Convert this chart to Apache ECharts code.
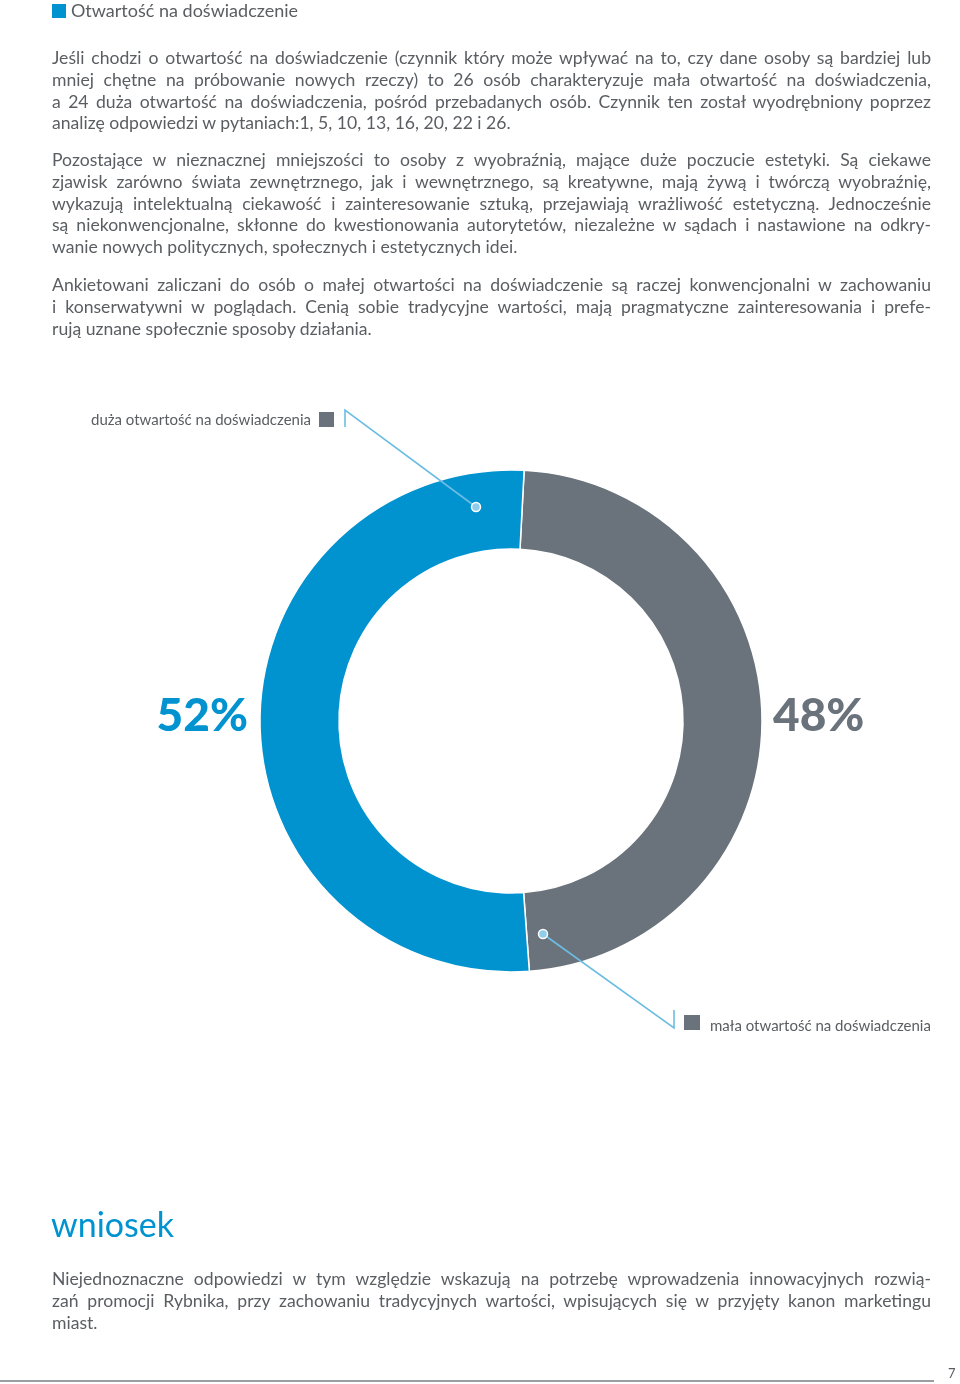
<!DOCTYPE html>
<html><head><meta charset="utf-8">
<script src="https://cdn.jsdelivr.net/npm/echarts@6/dist/echarts.min.js"></script>
<style>
html,body{margin:0;padding:0;background:#fff;}
body{width:960px;height:1384px;position:relative;overflow:hidden;font-family:Lato,"Noto Sans",sans-serif;color:#5a5e62;}
#chart{position:absolute;left:0;top:0;width:960px;height:1384px;}
.p{position:absolute;left:52px;width:879px;font-size:17.6px;line-height:21.8px;}
.p div{white-space:nowrap;}
.p div.j{text-align:justify;text-align-last:justify;}
#head{position:absolute;left:52px;top:0px;font-size:18px;line-height:20px;color:#5a5e62;}
#head span{display:inline-block;width:14px;height:14px;background:#0093d0;margin-right:5px;vertical-align:-1px;}
#wn{position:absolute;left:51px;top:1204px;font-size:34px;color:#0093d0;line-height:40px;}
#foot{position:absolute;left:0;top:1380px;width:934px;height:1.5px;background:#9a9ea2;}
#pg{position:absolute;left:948px;top:1365px;font-size:13px;color:#5a5e62;}
</style></head>
<body>
<div id="chart"></div>
<div id="head"><span></span>Otwartość na doświadczenie</div>
<div class="p" style="top:47px">
<div class="j">Jeśli chodzi o otwartość na doświadczenie (czynnik który może wpływać na to, czy dane osoby są bardziej lub</div>
<div class="j">mniej chętne na próbowanie nowych rzeczy) to 26 osób charakteryzuje mała otwartość na doświadczenia,</div>
<div class="j">a 24 duża otwartość na doświadczenia, pośród przebadanych osób. Czynnik ten został wyodrębniony poprzez</div>
<div>analizę odpowiedzi w pytaniach:1, 5, 10, 13, 16, 20, 22 i 26.</div>
</div>
<div class="p" style="top:149px">
<div class="j">Pozostające w nieznacznej mniejszości to osoby z wyobraźnią, mające duże poczucie estetyki. Są ciekawe</div>
<div class="j">zjawisk zarówno świata zewnętrznego, jak i wewnętrznego, są kreatywne, mają żywą i twórczą wyobraźnię,</div>
<div class="j">wykazują intelektualną ciekawość i zainteresowanie sztuką, przejawiają wrażliwość estetyczną. Jednocześnie</div>
<div class="j">są niekonwencjonalne, skłonne  do kwestionowania autorytetów, niezależne w sądach i nastawione na odkry-</div>
<div>wanie nowych politycznych, społecznych i estetycznych idei.</div>
</div>
<div class="p" style="top:274px">
<div class="j">Ankietowani zaliczani  do osób o małej otwartości na doświadczenie są raczej konwencjonalni w zachowaniu</div>
<div class="j">i konserwatywni w poglądach. Cenią sobie tradycyjne wartości, mają pragmatyczne zainteresowania i prefe-</div>
<div>rują uznane społecznie sposoby działania.</div>
</div>
<div id="wn">wniosek</div>
<div class="p" style="top:1268px">
<div class="j">Niejednoznaczne odpowiedzi w tym względzie wskazują na potrzebę wprowadzenia innowacyjnych rozwią-</div>
<div class="j">zań promocji Rybnika, przy zachowaniu tradycyjnych wartości, wpisujących się w przyjęty kanon marketingu</div>
<div>miast.</div>
</div>
<div id="foot"></div>
<div id="pg">7</div>
<script>
// data
const categories = ['mała otwartość na doświadczenia', 'duża otwartość na doświadczenia'];
const values = [48, 52];
const colors = ['#6a737b', '#0093d0'];

const chart = echarts.init(document.getElementById('chart'), null, {renderer: 'canvas'});
const lineColor = '#6cbde3';
const labelFont = '15px Lato, "Noto Sans", sans-serif';
chart.setOption({
  animation: false,
  series: [{
    type: 'pie',
    z: 2,
    center: [511, 721],
    radius: [172, 251],
    startAngle: 87,
    clockwise: true,
    label: {show: false},
    labelLine: {show: false},
    itemStyle: {borderColor: '#fff', borderWidth: 1.5},
    data: categories.map((c, i) => ({name: c, value: values[i], itemStyle: {color: colors[i]}}))
  }],
  graphic: {
    elements: [
      {type: 'text', z: 100, x: 248, y: 716, style: {text: values[1] + '%', fill: colors[1], font: '900 46px Lato, sans-serif', align: 'right', verticalAlign: 'middle'}},
      {type: 'text', z: 100, x: 773, y: 716, style: {text: values[0] + '%', fill: colors[0], font: '900 46px Lato, sans-serif', align: 'left', verticalAlign: 'middle'}},
      {type: 'polyline', z: 100, shape: {points: [[345, 427], [345, 410], [476, 507]]}, style: {stroke: lineColor, lineWidth: 1.6, fill: null}},
      {type: 'circle', z: 101, shape: {cx: 476, cy: 507, r: 4.5}, style: {fill: '#8fcdea', stroke: '#fff', lineWidth: 1.5}},
      {type: 'polyline', z: 100, shape: {points: [[543, 934], [674, 1028], [674, 1010]]}, style: {stroke: lineColor, lineWidth: 1.6, fill: null}},
      {type: 'circle', z: 101, shape: {cx: 543, cy: 934, r: 4.5}, style: {fill: '#8fcdea', stroke: '#fff', lineWidth: 1.5}},
      {type: 'rect', z: 100, shape: {x: 319, y: 412, width: 15, height: 15}, style: {fill: colors[0]}},
      {type: 'text', z: 100, x: 311, y: 420, style: {text: categories[1], fill: '#5a5e62', font: labelFont, align: 'right', verticalAlign: 'middle'}},
      {type: 'rect', z: 100, shape: {x: 684, y: 1015, width: 16, height: 15}, style: {fill: colors[0]}},
      {type: 'text', z: 100, x: 710, y: 1026, style: {text: categories[0], fill: '#5a5e62', font: labelFont, align: 'left', verticalAlign: 'middle'}}
    ]
  }
});
</script>
</body></html>
